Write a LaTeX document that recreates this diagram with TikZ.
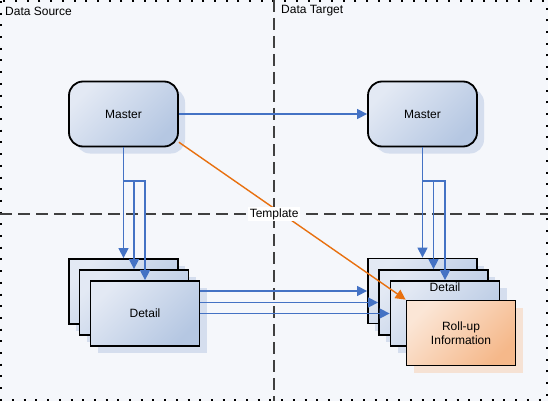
\documentclass[tikz,border=0pt]{standalone}
\usepackage{fontspec}
\setmainfont{Liberation Sans}
\usetikzlibrary{arrows.meta,shadows}
\definecolor{bg}{HTML}{F5F7FB}
\definecolor{conn}{HTML}{4472C4}
\definecolor{orng}{HTML}{E8700F}
\definecolor{blueL}{HTML}{E3E9F4}
\definecolor{blueD}{HTML}{B5C7E2}
\definecolor{shad}{HTML}{D5DEEE}
\definecolor{shadO}{HTML}{F6E2D4}
\definecolor{orL}{HTML}{FBE6D6}
\definecolor{orD}{HTML}{F5B88A}
\definecolor{divc}{HTML}{404040}
\begin{document}
\begin{tikzpicture}[x=1pt,y=-1pt,
  font=\fontsize{12}{14}\selectfont,
  box/.style={draw=black, line width=1.8pt, minimum width=109pt, minimum height=65pt,
    inner sep=0pt, top color=blueL, bottom color=blueD, shading angle=45,
    drop shadow={shadow xshift=7pt, shadow yshift=-7pt, fill=shad, opacity=1}},
  masterbox/.style={box, rounded corners=14pt},
  rollbox/.style={box, top color=orL, bottom color=orD, shading angle=45, align=center,
    drop shadow={shadow xshift=7pt, shadow yshift=-7pt, fill=shadO, opacity=1}},
  conn/.style={draw=conn, line width=1.4pt, -{Triangle[length=10pt,width=10pt]}},
  tmpl/.style={draw=orng, line width=1.4pt, -{Triangle[length=10pt,width=10pt]}},
  divider/.style={draw=divc, line width=2pt, dash pattern=on 12pt off 6pt},
  border/.style={draw=black, line width=2pt, dash pattern=on 2pt off 9.7pt},
  region/.style={anchor=west, inner sep=3pt},
]
\useasboundingbox (0,0) rectangle (548,401);
\fill[bg] (0,0) rectangle (548,401);
\draw[border] (1,1) rectangle (546.5,399.5);
\draw[divider] (273.5,0) -- (273.5,401);
\draw[divider] (0,214) -- (548,214);
\node[region] (ds) at (2,11) {Data Source};
\node[region] (dt) at (278,11) {Data Target};

\node[masterbox] (lm) at (123.5,114) {Master};
\node[masterbox] (rm) at (422.5,114) {Master};

\node[box] (ld1) at (123.5,291.5) {};
\node[box] (ld2) at (134,302.5) {};
\node[box] (ld3) at (145,313.5) {Detail};

\node[box] (rd1) at (422.5,291) {};
\node[box] (rd2) at (433.5,302.5) {};
\node[box, label={[anchor=north, inner sep=3pt]north:Detail}] (rd3) at (445,313.5) {};
\node[rollbox] (ru) at (461,333) {Roll-up\\Information};

\coordinate (lb) at (123.5,181);
\coordinate (rb) at (422.5,181);

\draw[conn] (lm.east) -- (rm.west);

\draw[conn] (lm.south) -- (ld1.north);
\draw[conn] (lb) -| (ld2.north);
\draw[conn] (lb) -| (ld3.north);

\draw[conn] (rm.south) -- (rd1.north);
\draw[conn] (rb) -| (rd2.north);
\draw[conn] (rb) -| (rd3.north);

\draw[conn] (rd1.west -| ld3.east) -- (rd1.west);
\draw[conn] (rd2.west -| ld3.east) -- (rd2.west);
\draw[conn] (rd3.west -| ld3.east) -- (rd3.west);

\draw[tmpl] (lm.-27) -- node[pos=0.42, yshift=-6pt, fill=white, inner sep=1.5pt, text=black] (tpl) {Template} (ru.north west);
\end{tikzpicture}
\end{document}
